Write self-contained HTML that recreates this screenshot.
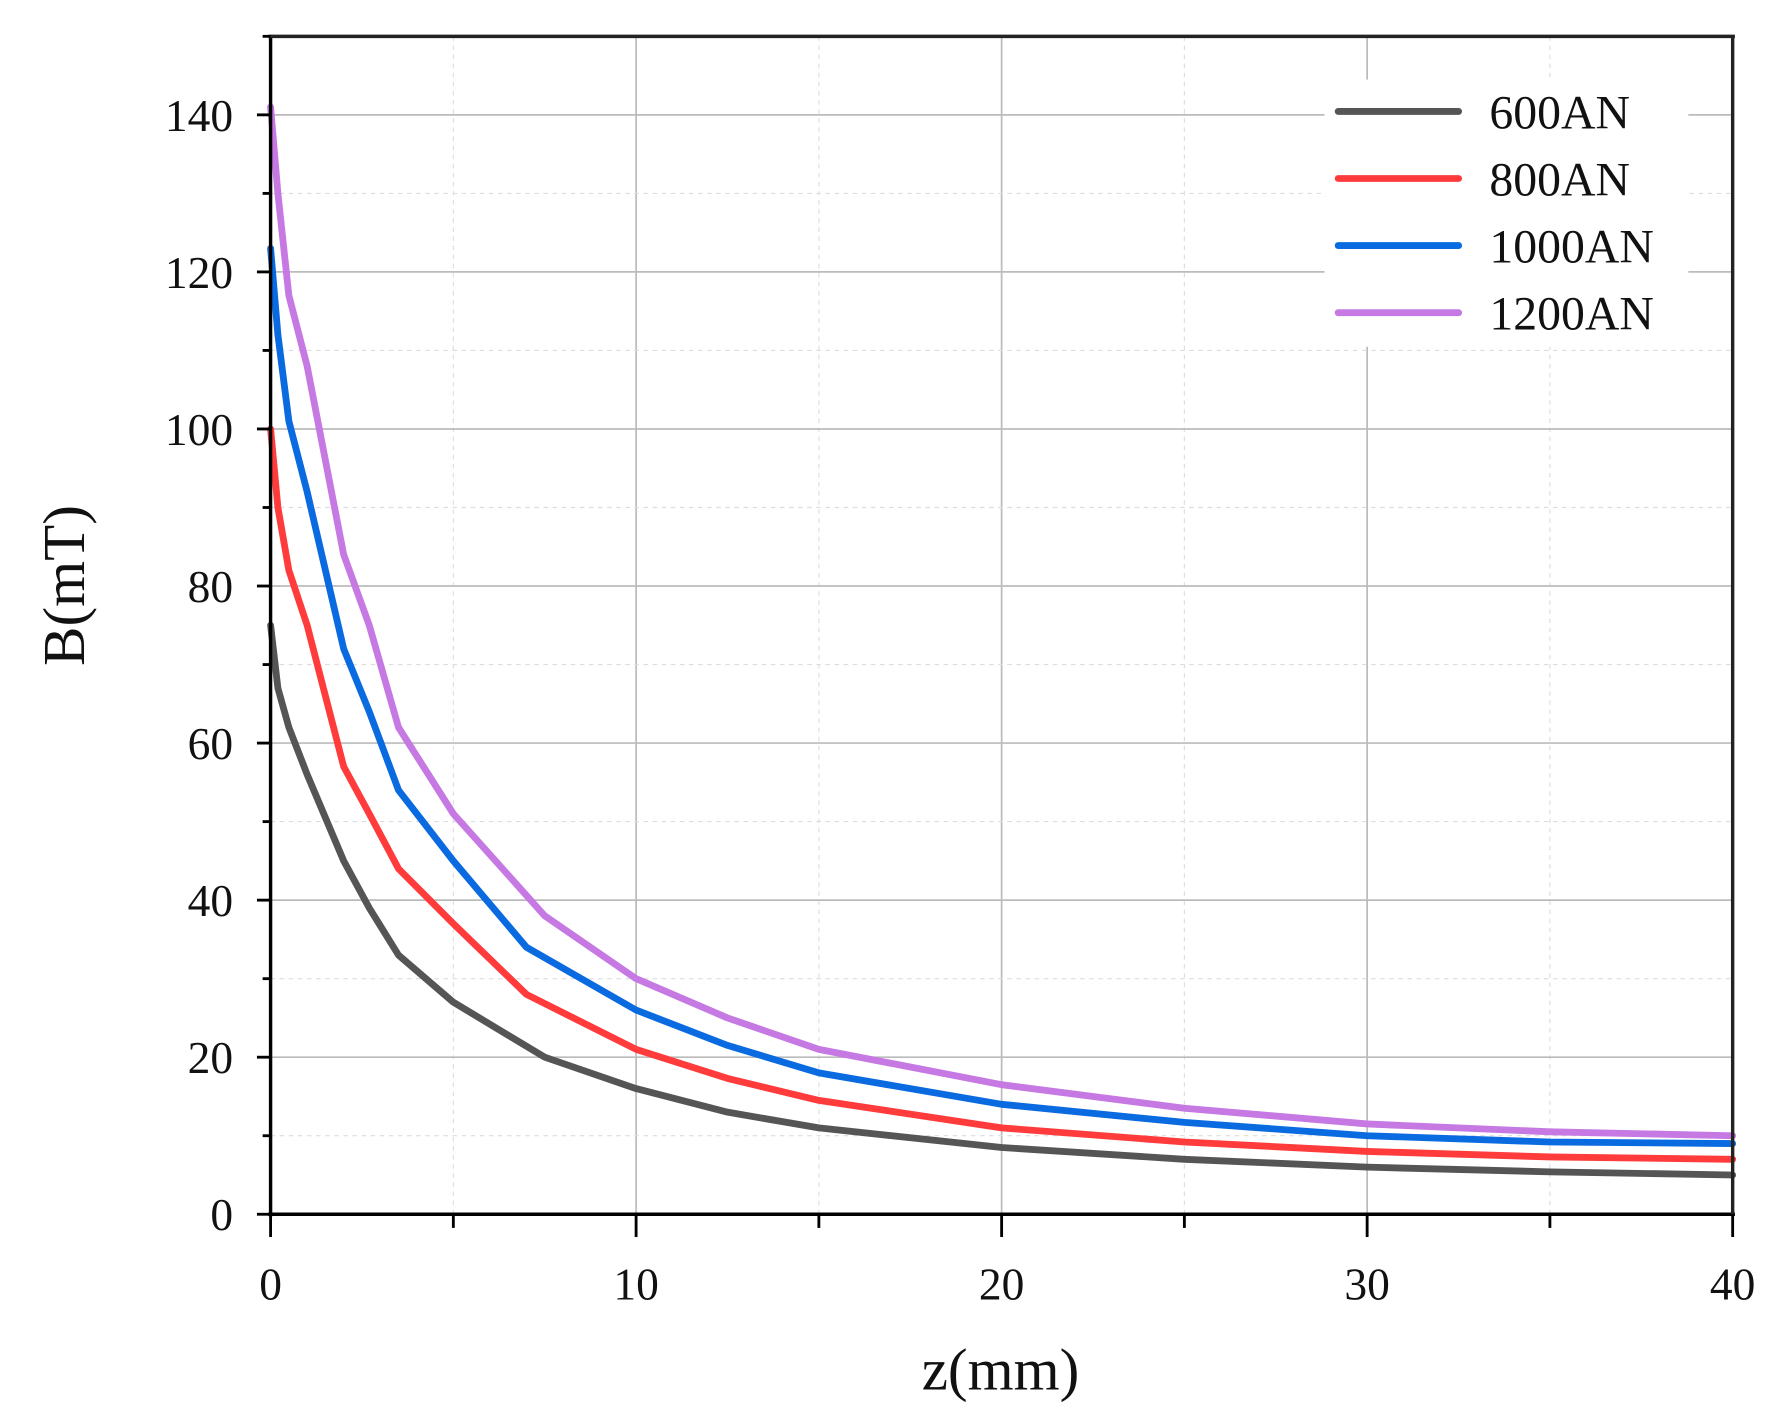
<!DOCTYPE html>
<html><head><meta charset="utf-8"><style>
html,body{margin:0;padding:0;background:#fff;}
svg{display:block;}
text{font-family:"Liberation Serif",serif;fill:#111;}
</style></head><body>
<svg id="s" width="1777" height="1423" viewBox="0 0 1563 1251.6" preserveAspectRatio="none" xmlns="http://www.w3.org/2000/svg">
<g id="grid"></g>
<g id="curves" fill="none" stroke-width="6" stroke-linejoin="round" stroke-linecap="round"></g>
<rect x="1165" y="70" width="320" height="235" fill="#fff"/>
<g stroke-width="6" stroke-linecap="round">
<line x1="1177" y1="98" x2="1283" y2="98" stroke="#555"/>
<line x1="1177" y1="157" x2="1283" y2="157" stroke="#ff3b3b"/>
<line x1="1177" y1="216" x2="1283" y2="216" stroke="#0a6ae0"/>
<line x1="1177" y1="275" x2="1283" y2="275" stroke="#c678e3"/>
</g>
<g font-size="42">
<text x="1310" y="113">600AN</text>
<text x="1310" y="172">800AN</text>
<text x="1310" y="231">1000AN</text>
<text x="1310" y="290">1200AN</text>
</g>
<g id="axes"></g>
<text x="880" y="1222" font-size="52" text-anchor="middle">z(mm)</text>
<text transform="translate(74,515) rotate(-90)" font-size="52" text-anchor="middle">B(mT)</text>
</svg>
<script>
var L=238,R=1524,T=32,B0=1068;
function X(z){return L+z*(R-L)/40;}
function Y(b){return B0-b*6.907;}
var ns="http://www.w3.org/2000/svg";
function el(p,tag,a){var e=document.createElementNS(ns,tag);for(var k in a)e.setAttribute(k,a[k]);p.appendChild(e);return e;}
var g=document.getElementById('grid'),ax=document.getElementById('axes');
for(var z=5;z<40;z+=5){var maj=z%10==0;el(g,'line',{x1:X(z),x2:X(z),y1:T,y2:B0,stroke:maj?'#bbb':'#ddd','stroke-width':maj?1.5:1,'stroke-dasharray':maj?'':'4,4'});}
for(var b=10;b<=150;b+=10){var maj=b%20==0;el(g,'line',{x1:L,x2:R,y1:Y(b),y2:Y(b),stroke:maj?'#bbb':'#ddd','stroke-width':maj?1.5:1,'stroke-dasharray':maj?'':'4,4'});}
el(ax,'line',{x1:L,x2:L,y1:T,y2:B0+2,stroke:'#000','stroke-width':3});
el(ax,'line',{x1:L-2,x2:R+2,y1:B0,y2:B0,stroke:'#000','stroke-width':3});
el(ax,'line',{x1:L-2,x2:R+2,y1:T,y2:T,stroke:'#222','stroke-width':3});
el(ax,'line',{x1:R,x2:R,y1:T,y2:B0,stroke:'#222','stroke-width':3});
for(var z=0;z<=40;z+=5){var maj=z%10==0;el(ax,'line',{x1:X(z),x2:X(z),y1:B0,y2:B0+(maj?20:12),stroke:'#000','stroke-width':2.5});
 if(maj){var t=el(ax,'text',{x:X(z),y:B0+75,'font-size':40,'text-anchor':'middle'});t.textContent=z;}}
for(var b=0;b<=150;b+=10){var maj=b%20==0;el(ax,'line',{x1:L-(maj?12:7),x2:L,y1:Y(b),y2:Y(b),stroke:'#000','stroke-width':2.5});
 if(maj){var t=el(ax,'text',{x:205,y:Y(b)+14,'font-size':40,'text-anchor':'end'});t.textContent=b;}}
var data=[
['#555',[[0,75],[0.2,67],[0.5,62],[1,56],[2,45],[2.7,39],[3.5,33],[5,27],[7.5,20],[10,16],[12.5,13],[15,11],[20,8.5],[25,7],[30,6],[35,5.4],[40,5]]],
['#ff3b3b',[[0,100],[0.2,90],[0.5,82],[1,75],[2,57],[2.7,51],[3.5,44],[5,37],[7,28],[10,21],[12.5,17.3],[15,14.5],[20,11],[25,9.2],[30,8],[35,7.3],[40,7]]],
['#0a6ae0',[[0,123],[0.2,112],[0.5,101],[1,92],[2,72],[2.7,64],[3.5,54],[5,45],[7,34],[10,26],[12.5,21.5],[15,18],[20,14],[25,11.7],[30,10],[35,9.2],[40,9]]],
['#c678e3',[[0,141],[0.2,130],[0.5,117],[1,108],[2,84],[2.7,75],[3.5,62],[5,51],[7.5,38],[10,30],[12.5,25],[15,21],[20,16.5],[25,13.5],[30,11.5],[35,10.5],[40,10]]]];
var cg=document.getElementById('curves');
data.forEach(function(s){el(cg,'polyline',{points:s[1].map(function(d){return X(d[0])+','+Y(d[1]);}).join(' '),stroke:s[0]});});
</script>
</body></html>
